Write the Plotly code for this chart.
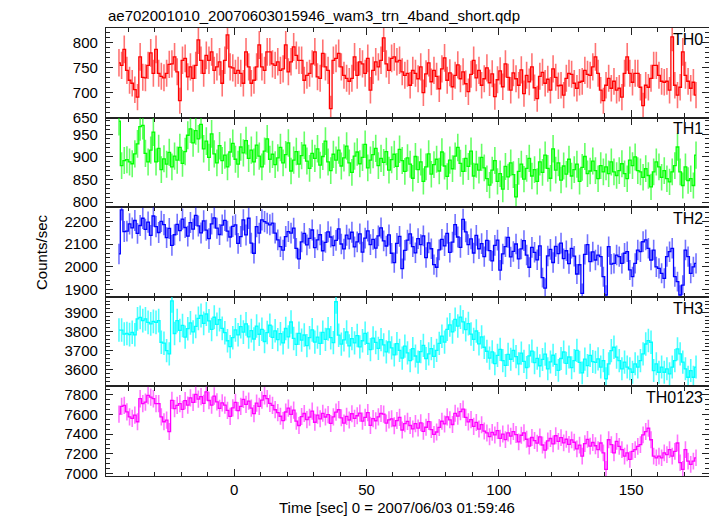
import numpy as np
import plotly.graph_objects as go
from plotly.subplots import make_subplots

# ---------------- data (1 s bins, bin centres start at -43.5 s) ----------------
BIN = 1.0
T_START = -43.5

th0 = [
    760, 755, 787, 745, 725, 719, 706, 691, 772, 731,
    730, 755, 780, 739, 787, 739, 733, 730, 739, 757,
    758, 772, 742, 684, 765, 769, 732, 752, 729, 755,
    806, 765, 739, 775, 765, 782, 745, 752, 762, 719,
    765, 816, 752, 750, 739, 745, 739, 719, 782, 752,
    719, 725, 752, 796, 752, 745, 782, 782, 758, 755,
    762, 745, 748, 796, 742, 762, 792, 775, 765, 765,
    725, 735, 739, 758, 782, 732, 729, 779, 752, 745,
    668, 765, 769, 779, 752, 735, 729, 723, 729, 772,
    735, 762, 758, 739, 769, 705, 745, 762, 752, 765,
    810, 758, 745, 769, 772, 762, 765, 742, 735, 739,
    715, 745, 739, 728, 752, 700, 738, 760, 722, 745,
    733, 708, 748, 770, 725, 740, 712, 735, 756, 728,
    742, 718, 702, 737, 765, 730, 745, 715, 728, 750,
    720, 738, 692, 726, 744, 712, 758, 731, 705, 740,
    728, 715, 746, 698, 735, 722, 752, 710, 688, 733,
    741, 719, 727, 705, 748, 731, 714, 715, 695, 729,
    739, 737, 719, 709, 721, 723, 745, 737, 735, 752,
    772, 739, 705, 684, 715, 729, 709, 723, 705, 709,
    691, 739, 772, 739, 721, 739, 739, 711, 674, 715,
    711, 729, 755, 755, 735, 723, 721, 723, 705, 812,
    715, 695, 711, 782, 735, 723, 709, 721, 695,
]

th1 = [
    979, 881, 892, 894, 889, 885, 907, 929, 967, 970,
    908, 889, 915, 955, 889, 919, 872, 896, 884, 910,
    878, 902, 893, 921, 886, 912, 948, 962, 931, 958,
    940, 972, 918, 935, 899, 951, 907, 887, 925, 892,
    904, 878, 911, 930, 895, 884, 922, 909, 936, 897,
    915, 889, 926, 902, 878, 913, 940, 895, 906, 883,
    898, 921, 887, 905, 931, 869, 893, 912, 884, 903,
    926, 891, 875, 908, 897, 918, 882, 901, 935, 889,
    870, 906, 893, 915, 880, 898, 924, 887, 866, 902,
    911, 885, 899, 928, 876, 893, 905, 919, 881, 897,
    888, 912, 871, 894, 906, 879, 917, 892, 868, 898,
    884, 853, 901, 872, 889, 846, 878, 907, 862, 883,
    895, 869, 911, 880, 857, 893, 874, 902, 921, 886,
    868, 897, 879, 913, 858, 884, 871, 899, 876, 852,
    838, 871, 892, 846, 863, 829, 879, 856, 887, 861,
    812, 868, 884, 851, 875, 897, 858, 872, 846, 889,
    866, 904, 875, 853, 918, 871, 887, 849, 880, 862,
    895, 858, 872, 884, 846, 877, 901, 863, 869, 891,
    870, 852, 881, 867, 878, 863, 889, 867, 859, 870,
    885, 863, 852, 893, 881, 900, 870, 867, 855, 874,
    859, 834, 867, 889, 878, 855, 870, 852, 845, 867,
    881, 922, 867, 837, 878, 848, 852, 837, 904,
]

th2 = [
    2057, 2252, 2156, 2158, 2190, 2172, 2205, 2148, 2183, 2215,
    2166, 2198, 2139, 2225, 2178, 2152, 2201, 2187, 2129, 2170,
    2095, 2142, 2188, 2160, 2211, 2174, 2136, 2196, 2167, 2228,
    2181, 2150, 2203, 2162, 2125, 2190, 2217, 2171, 2143, 2185,
    2206, 2158, 2132, 2179, 2186, 2104, 2134, 2208, 2141, 2215,
    2105, 2060, 2178, 2149, 2208, 2200, 2193, 2186, 2193, 2149,
    2119, 2089, 2074, 2134, 2156, 2149, 2171, 2082, 2035, 2110,
    2148, 2097, 2126, 2163, 2085, 2119, 2142, 2071, 2108, 2155,
    2132, 2094, 2117, 2168, 2101, 2079, 2140, 2124, 2153, 2088,
    2110, 2146, 2065, 2127, 2159, 2098, 2121, 2083, 2137, 2172,
    2115, 2092, 2141, 2060, 2018, 2104, 2135, 1992, 2073, 2118,
    2146, 2089, 2062, 2125, 2098, 2137, 2041, 2106, 2080, 2010,
    1998, 2075, 2121, 2093, 2148, 2064, 2109, 2187, 2132, 2086,
    2210, 2155, 2098, 2124, 2061, 2139, 2080, 2103, 2045, 2117,
    2072, 2026, 2095, 2118, 1985, 2057, 2089, 2130, 2044, 2068,
    2101, 2035, 2079, 2116, 2052, 1998, 2086, 2064, 2031, 2093,
    1952, 1905, 2048, 2077, 2019, 2090, 2058, 2105, 2036, 2071,
    2014, 2082, 2047, 1968, 2009, 1882, 2055, 2098, 2023, 2066,
    2030, 2052, 2045, 1956, 1875, 2089, 2012, 2015, 2052, 2045,
    2015, 2060, 2067, 1986, 1956, 2015, 2074, 2067, 2111, 2119,
    2082, 2030, 2074, 2000, 1993, 1971, 1949, 2045, 2067, 2082,
    1956, 1934, 1875, 1919, 2074, 2045, 1971, 2000, 2015,
]

th3 = [
    3808, 3808, 3787, 3790, 3784, 3796, 3783, 3866, 3874, 3857,
    3866, 3848, 3840, 3853, 3848, 3857, 3744, 3739, 3700, 3683,
    3961, 3790, 3857, 3806, 3832, 3771, 3815, 3846, 3798, 3827,
    3869, 3884, 3843, 3892, 3856, 3811, 3875, 3838, 3862, 3817,
    3794, 3752, 3721, 3768, 3809, 3783, 3826, 3797, 3840, 3772,
    3805, 3761, 3829, 3786, 3812, 3748, 3795, 3833, 3770, 3804,
    3758, 3789, 3741, 3816, 3772, 3850, 3764, 3733, 3791, 3755,
    3782, 3726, 3768, 3809, 3745, 3771, 3738, 3796, 3759, 3814,
    3768, 3742, 3956, 3781, 3734, 3757, 3798, 3725, 3763, 3741,
    3779, 3720, 3752, 3791, 3738, 3706, 3766, 3743, 3712, 3758,
    3730, 3694, 3746, 3715, 3678, 3737, 3702, 3661, 3724, 3689,
    3648, 3711, 3672, 3640, 3695, 3728, 3659, 3683, 3711, 3670,
    3702, 3738, 3776, 3745, 3812, 3835, 3798, 3864, 3829, 3876,
    3851, 3810, 3842, 3787, 3759, 3803, 3736, 3772, 3718, 3697,
    3661, 3694, 3632, 3675, 3707, 3648, 3623, 3681, 3655, 3702,
    3669, 3631, 3687, 3644, 3612, 3673, 3698, 3637, 3660, 3621,
    3654, 3682, 3605, 3641, 3676, 3628, 3597, 3659, 3693, 3634,
    3667, 3611, 3648, 3702, 3639, 3584, 3656, 3622, 3675, 3643,
    3639, 3657, 3614, 3648, 3553, 3631, 3700, 3718, 3666, 3648,
    3605, 3640, 3614, 3605, 3587, 3631, 3614, 3648, 3683, 3735,
    3753, 3744, 3596, 3631, 3587, 3614, 3587, 3605, 3579, 3614,
    3648, 3709, 3683, 3640, 3605, 3561, 3596, 3561, 3614,
]

th0123 = [
    7603, 7683, 7693, 7626, 7576, 7560, 7593, 7526, 7760, 7710,
    7726, 7793, 7776, 7760, 7710, 7710, 7576, 7526, 7543, 7426,
    7743, 7660, 7693, 7710, 7652, 7741, 7695, 7768, 7722, 7804,
    7756, 7781, 7713, 7829, 7742, 7695, 7787, 7728, 7662, 7718,
    7694, 7641, 7580, 7667, 7722, 7639, 7683, 7754, 7702, 7736,
    7665, 7609, 7716, 7682, 7745, 7790, 7761, 7712, 7693, 7648,
    7618, 7582, 7537, 7625, 7664, 7601, 7645, 7532, 7488, 7579,
    7610, 7548, 7572, 7633, 7521, 7594, 7556, 7612, 7574, 7598,
    7509, 7575, 7623, 7648, 7566, 7512, 7581, 7544, 7607, 7560,
    7587, 7614, 7532, 7571, 7619, 7489, 7558, 7536, 7575, 7610,
    7603, 7512, 7545, 7556, 7485, 7538, 7571, 7442, 7506, 7530,
    7488, 7453, 7507, 7462, 7515, 7429, 7470, 7528, 7446, 7398,
    7422, 7468, 7531, 7504, 7575, 7546, 7498, 7612, 7583, 7628,
    7654, 7571, 7525, 7548, 7479, 7519, 7452, 7496, 7431, 7412,
    7374, 7418, 7392, 7436, 7358, 7401, 7345, 7412, 7380, 7426,
    7396, 7322, 7389, 7414, 7348, 7279, 7366, 7335, 7308, 7372,
    7290, 7238, 7331, 7356, 7302, 7384, 7327, 7365, 7312, 7348,
    7296, 7342, 7318, 7251, 7289, 7176, 7304, 7347, 7278, 7315,
    7282, 7243, 7310, 7210, 7043, 7343, 7293, 7210, 7326, 7276,
    7243, 7176, 7210, 7143, 7226, 7243, 7276, 7293, 7393, 7426,
    7460, 7343, 7176, 7160, 7176, 7160, 7210, 7193, 7243, 7176,
    7226, 7310, 7110, 7043, 7243, 7126, 7093, 7126, 7160,
]

band_names = ["TH0", "TH1", "TH2", "TH3", "TH0123"]
band_rates = [th0, th1, th2, th3, th0123]
band_colors = ["#ff0000", "#00ff00", "#0000ff", "#00ffff", "#ff00ff"]
err_colors = ["rgba(255,0,0,0.55)", "rgba(0,255,0,0.6)", "rgba(0,0,255,0.55)",
              "rgba(0,255,255,0.7)", "rgba(255,0,255,0.55)"]
y_ranges = [[650, 830], [789, 987], [1867, 2264], [3513, 3982], [6975, 7885]]
y_dtick = [50, 50, 100, 100, 200]
y_minor = [10, 10, 20, 20, 50]
x_range = [-48.4, 179.4]

title = "ae702001010_20070603015946_wam3_trn_4band_short.qdp"
x_title = "Time [sec] 0 = 2007/06/03 01:59:46"
y_title = "Counts/sec"

FONT = "Liberation Sans, Arial, Helvetica, sans-serif"

# ---------------- figure ----------------
fig = make_subplots(rows=5, cols=1, shared_xaxes=True, vertical_spacing=0)

for i, (name, rate, col, ecol) in enumerate(zip(band_names, band_rates, band_colors, err_colors)):
    r = np.asarray(rate, dtype=float)
    t = T_START + BIN * np.arange(len(r))
    err = np.sqrt(r * BIN) / BIN  # Poisson error of the binned rate
    fig.add_trace(
        go.Scatter(
            x=t, y=r, mode="lines", line=dict(color=col, width=1.3, shape="hvh"),
            error_y=dict(type="data", array=err, visible=True, color=ecol,
                         thickness=1.6, width=0),
            name=name, hoverinfo="x+y",
        ),
        row=i + 1, col=1,
    )

axis_common = dict(
    showline=True, linecolor="#222222", linewidth=1.3, mirror="ticks",
    ticks="inside", ticklen=7, tickwidth=1, tickcolor="#222222",
    showgrid=False, zeroline=False,
    tickfont=dict(family=FONT, size=15, color="black"),
)

for i in range(5):
    fig.update_xaxes(
        range=x_range, tick0=0, dtick=50,
        minor=dict(ticks="inside", ticklen=4, dtick=10, tick0=0, tickcolor="#222222", showgrid=False),
        row=i + 1, col=1, **axis_common,
    )
    fig.update_yaxes(
        range=y_ranges[i], tick0=0, dtick=y_dtick[i],
        minor=dict(ticks="inside", ticklen=4, dtick=y_minor[i], tick0=0, tickcolor="#222222", showgrid=False),
        ticklabelstandoff=4,
        row=i + 1, col=1, **axis_common,
    )

annotations = [
    dict(text=title, xref="paper", yref="paper", x=0, y=1.0, xanchor="left", yanchor="bottom",
         yshift=2, showarrow=False, font=dict(family=FONT, size=15, color="black")),
    dict(text=x_title, xref="paper", yref="paper", x=0.483, y=0, xanchor="center", yanchor="top",
         yshift=-21, showarrow=False, font=dict(family=FONT, size=15, color="black")),
    dict(text=y_title, xref="paper", yref="paper", x=0, y=0.5, xanchor="center", yanchor="middle",
         xshift=-65, textangle=-90, showarrow=False, font=dict(family=FONT, size=15, color="black")),
]
for i, name in enumerate(band_names):
    yref = "y domain" if i == 0 else f"y{i + 1} domain"
    annotations.append(dict(text=name, xref="paper", yref=yref, x=0.994, y=0.99,
                            xanchor="right", yanchor="top", showarrow=False,
                            font=dict(family=FONT, size=16, color="black")))

# The page body keeps an 8 px margin, so the figure is sized 8 px smaller
# and its margins are shifted so that the plot area lands at x 106-709, y 28-476.
fig.update_layout(
    width=709, height=508,
    margin=dict(l=98, r=8, t=20, b=40),
    plot_bgcolor="white", paper_bgcolor="white",
    showlegend=False,
    font=dict(family=FONT, size=15, color="black"),
    annotations=annotations,
)

fig.write_html("out.html")
